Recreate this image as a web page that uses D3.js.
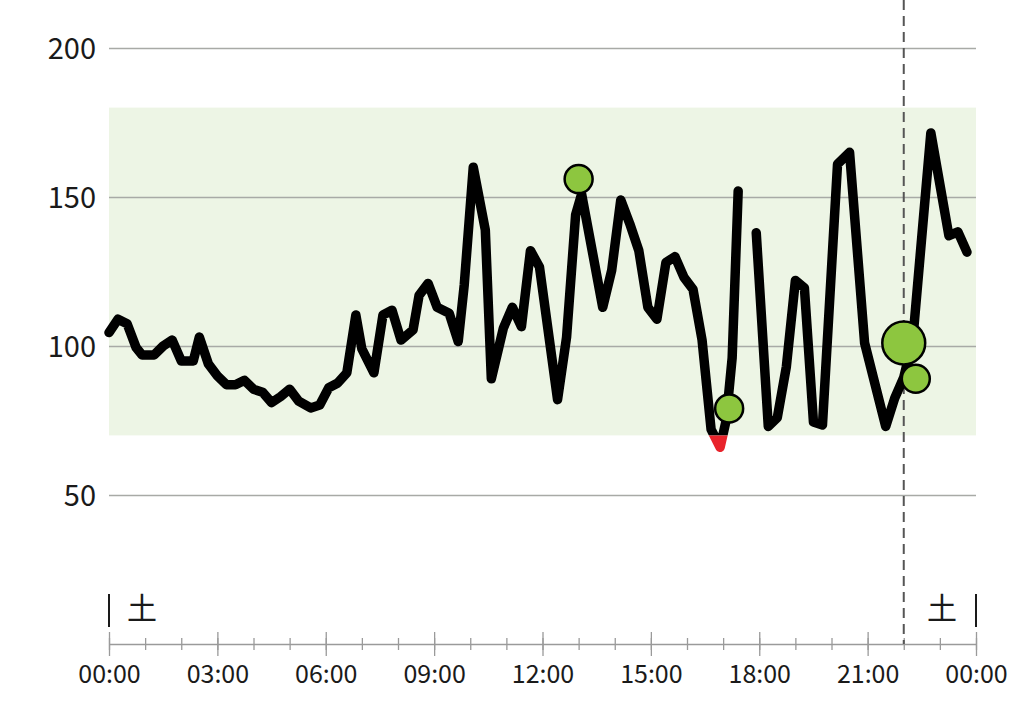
<!DOCTYPE html>
<html><head><meta charset="utf-8">
<script src="https://cdn.jsdelivr.net/npm/d3@7"></script>
<style>body{margin:0;background:#fff}svg{display:block}</style>
</head><body>
<svg id="chart" width="1024" height="721"></svg>
<script>
// ---- data ----
const times = ["00:00","00:15","00:30","00:45","00:55","01:15","01:30","01:45","02:00","02:20","02:30","02:45","03:00","03:15","03:30","03:45","04:00","04:15","04:30","04:45","05:00","05:15","05:35","05:50","06:05","06:20","06:35","06:50","07:00","07:20","07:35","07:50","08:05","08:25","08:35","08:50","09:05","09:25","09:40","09:50","10:05","10:25","10:35","10:55","11:10","11:25","11:40","11:55","12:25","12:40","12:55","13:05","13:40","13:55","14:10","14:25","14:40","14:55","15:10","15:25","15:40","15:55","16:10","16:25","16:40","16:55","17:05","17:15","17:25","17:40","17:55","18:15","18:30","18:45","19:00","19:15","19:30","19:45","20:10","20:30","20:55","21:30","21:45","22:00","22:15","22:45","23:15","23:30","23:45"];
const glucose = [104.5,109,107.5,99.5,97,97,100,102,95,95,103,94,90,87,87,88.5,85.5,84.5,81,83,85.5,81.5,79.2,80.2,86,87.6,91,110.4,99,91,110.4,112,102,105.4,117,121,113,111,101.5,120.5,160,139,89,106,113,106.5,132,126.5,82,103,144,151,113,125.5,149,141,132,113,109,128,130,123,119,102,72,66,75,96,152,null,138,73,76,93,122,119.5,74.5,73.5,161,165,101,73,82.5,89.5,102,171.5,137,138.3,131.5];
const markerTimes = ["13:00","17:10","22:00","22:20"];
const markerValues = [156,79,101,89];
const markerAmounts = [20,20,47,20];
const yTicks = [50,100,150,200];
const targetRange = [70,180];
const nowTime = "22:00";
const dayLabel = "土";

// ---- setup ----
const svg = d3.select("#chart");
const parse = d3.timeParse("%H:%M");
const day0 = parse("00:00");
const day1 = d3.timeDay.offset(day0, 1);
const left = 109, right = 976, axisY = 644;
const x = d3.scaleTime().domain([day0, day1]).range([left, right]);
const y = d3.scaleLinear().domain([0, 200]).range([axisY, 48]);
const r = d3.scaleSqrt().domain([0, 20]).range([0, 14]);
const font = "'Noto Sans CJK JP','Noto Sans',sans-serif";
const ink = "#1a1a1a";

const data = times.map((t, i) => ({t: parse(t), v: glucose[i]}));
const markers = markerTimes.map((t, i) => ({t: parse(t), v: markerValues[i], a: markerAmounts[i]}));

// clip paths
const defs = svg.append("defs");
defs.append("clipPath").attr("id", "above").append("rect")
  .attr("x", 0).attr("y", 0).attr("width", 1024).attr("height", y(targetRange[0]));
defs.append("clipPath").attr("id", "below").append("rect")
  .attr("x", 0).attr("y", y(targetRange[0])).attr("width", 1024).attr("height", 721 - y(targetRange[0]));

// target band
svg.append("rect")
  .attr("x", left).attr("width", right - left)
  .attr("y", y(targetRange[1])).attr("height", y(targetRange[0]) - y(targetRange[1]))
  .attr("fill", "#edf5e5");

// grid + y labels
const yAxis = d3.axisLeft(y).tickValues(yTicks).tickSize(-(right - left)).tickPadding(13);
const gy = svg.append("g").attr("transform", `translate(${left},0)`).call(yAxis);
gy.select(".domain").remove();
gy.selectAll(".tick line").attr("stroke", "#a8aaa6").attr("stroke-width", 1.3);
gy.selectAll(".tick text").attr("font-family", font).attr("font-size", 29).attr("fill", ink).attr("dy", "0.35em");

// x axis: minor hourly ticks
const minor = d3.axisBottom(x).ticks(d3.timeHour.every(1)).tickFormat("").tickSize(0);
const gm = svg.append("g").attr("transform", `translate(0,${axisY})`).call(minor);
gm.select(".domain").attr("stroke", "#9a9a9a").attr("stroke-width", 1.3);
gm.selectAll(".tick line").attr("y1", -6).attr("y2", 6).attr("stroke", "#9a9a9a").attr("stroke-width", 1.3);
// major 3-hour ticks
const major = d3.axisBottom(x).ticks(d3.timeHour.every(3)).tickFormat(d3.timeFormat("%H:%M")).tickSize(0);
const gx = svg.append("g").attr("transform", `translate(0,${axisY})`).call(major);
gx.select(".domain").remove();
gx.selectAll(".tick line").attr("y1", -12).attr("y2", 12).attr("stroke", "#9a9a9a").attr("stroke-width", 1.3);
gx.selectAll(".tick text").attr("font-family", font).attr("font-size", 25).attr("fill", ink)
  .attr("y", 39).attr("dy", 0);

// now line
svg.append("line")
  .attr("x1", x(parse(nowTime))).attr("x2", x(parse(nowTime)))
  .attr("y1", 0).attr("y2", axisY)
  .attr("stroke", "#555").attr("stroke-width", 2).attr("stroke-dasharray", "10,6");

// day markers
svg.append("line").attr("x1", left).attr("x2", left).attr("y1", 594).attr("y2", 627)
  .attr("stroke", ink).attr("stroke-width", 2);
svg.append("line").attr("x1", right).attr("x2", right).attr("y1", 594).attr("y2", 627)
  .attr("stroke", ink).attr("stroke-width", 2);
svg.append("text").attr("x", left + 33).attr("y", 619).attr("text-anchor", "middle")
  .attr("font-family", font).attr("font-size", 30).attr("fill", ink).text(dayLabel);
svg.append("text").attr("x", right - 34).attr("y", 619).attr("text-anchor", "middle")
  .attr("font-family", font).attr("font-size", 30).attr("fill", ink).text(dayLabel);

// glucose line
const line = d3.line().defined(d => d.v != null).x(d => x(d.t)).y(d => y(d.v));
svg.append("path").datum(data).attr("d", line).attr("clip-path", "url(#above)")
  .attr("fill", "none").attr("stroke", "#000").attr("stroke-width", 9.5)
  .attr("stroke-linejoin", "round").attr("stroke-linecap", "round");
svg.append("path").datum(data).attr("d", line).attr("clip-path", "url(#below)")
  .attr("fill", "none").attr("stroke", "#e8232b").attr("stroke-width", 9.5)
  .attr("stroke-linejoin", "round").attr("stroke-linecap", "round");

// markers
svg.append("g").selectAll("circle").data(markers).join("circle")
  .attr("cx", d => x(d.t)).attr("cy", d => y(d.v)).attr("r", d => r(d.a))
  .attr("fill", "#8dc63f").attr("stroke", "#000").attr("stroke-width", 2.5);
</script>
</body></html>
